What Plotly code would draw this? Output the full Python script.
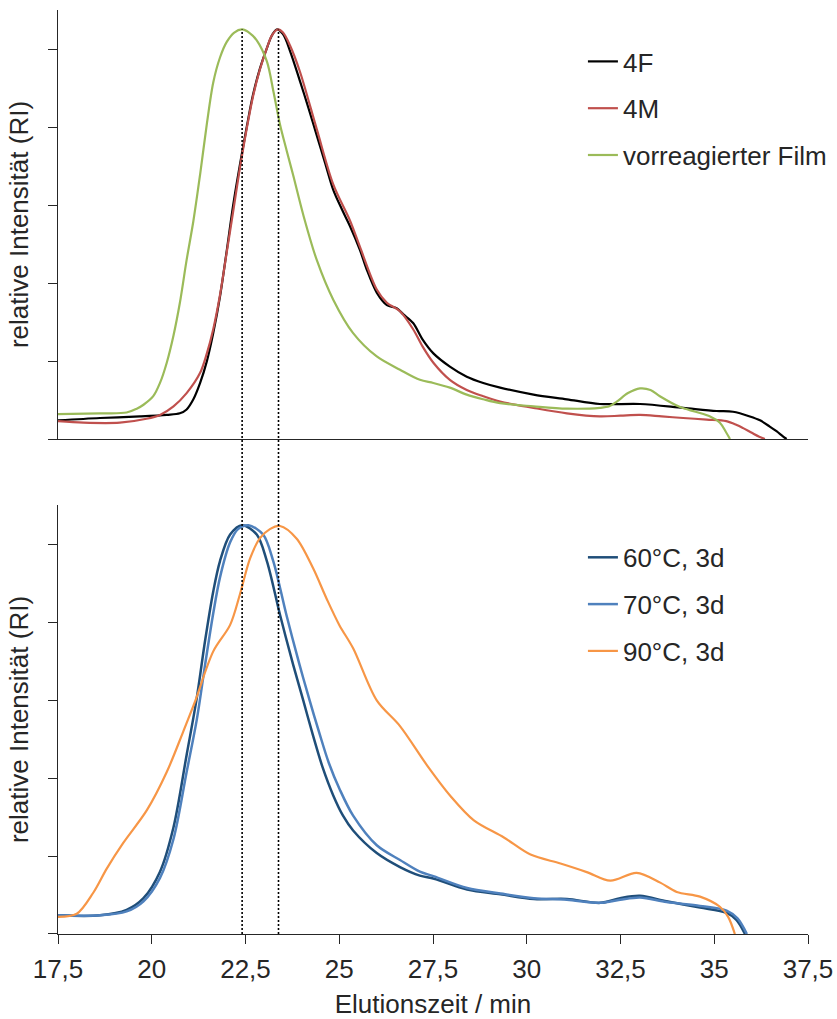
import plotly.graph_objects as go

# ---------------- data ----------------
# top panel
x_4F = [17.5, 18.62, 19.69, 20.4, 20.75, 20.93, 21.11, 21.29, 21.47, 21.64, 21.82, 22.0, 22.17,
        22.35, 22.53, 22.7, 22.88, 23.07, 23.2, 23.33, 23.5, 23.69, 23.95, 24.18, 24.4, 24.62, 24.84,
        25.07, 25.29, 25.55, 25.73, 26.0, 26.27, 26.53, 26.71, 26.97, 27.22, 27.51, 27.95, 28.4,
        28.84, 29.29, 30.18, 31.07, 31.95, 33.02, 34.17, 35.06, 35.5, 35.95, 36.22, 36.48, 36.66,
        36.84, 36.93]
y_4F = [0.24, 0.27, 0.29, 0.31, 0.33, 0.38, 0.51, 0.72, 1.0, 1.36, 1.83, 2.42, 3.0,
        3.52, 4.0, 4.42, 4.75, 5.02, 5.18, 5.26, 5.20, 4.98, 4.60, 4.25, 3.90, 3.55, 3.20,
        2.95, 2.73, 2.43, 2.18, 1.88, 1.72, 1.68, 1.60, 1.49, 1.28, 1.10, 0.93, 0.80,
        0.72, 0.66, 0.57, 0.51, 0.45, 0.45, 0.40, 0.36, 0.35, 0.29, 0.24, 0.16, 0.10,
        0.03, 0.0]

x_4M = [17.5, 18.18, 19.15, 19.86, 20.22, 20.58, 20.93, 21.29, 21.47, 21.64, 21.82, 22.0, 22.18,
        22.35, 22.53, 22.7, 22.88, 23.07, 23.2, 23.36, 23.5, 23.69, 23.95, 24.4, 24.84, 25.29, 25.55,
        26.0, 26.27, 26.62, 26.97, 27.22, 27.51, 27.95, 28.4, 28.84, 29.29, 30.18, 31.07, 31.95,
        32.5, 33.02, 33.6, 34.17, 34.8, 35.32, 35.6, 35.77, 36.0, 36.2, 36.35]
y_4M = [0.23, 0.21, 0.21, 0.26, 0.31, 0.42, 0.59, 0.85, 1.10, 1.41, 1.85, 2.40, 2.95,
        3.48, 3.98, 4.40, 4.74, 5.02, 5.18, 5.26, 5.22, 5.05, 4.72, 3.98, 3.27, 2.80, 2.47,
        1.92, 1.75, 1.64, 1.41, 1.19, 0.98, 0.76, 0.63, 0.55, 0.48, 0.40, 0.33, 0.29,
        0.30, 0.31, 0.29, 0.27, 0.25, 0.23, 0.18, 0.14, 0.08, 0.03, 0.0]

x_film = [17.5, 18.62, 19.33, 19.6, 19.78, 20.04, 20.22, 20.4, 20.58, 20.75, 20.93, 21.11, 21.29,
          21.47, 21.64, 21.82, 22.0, 22.2, 22.41, 22.62, 22.8, 23.07, 23.25, 23.42, 23.6, 23.77,
          24.04, 24.4, 24.84, 25.37, 26.0, 26.62, 27.15, 27.51, 27.95, 28.4, 28.84, 29.29, 30.18,
          31.07, 31.95, 32.2, 32.4, 32.7, 33.02, 33.3, 33.55, 34.09, 34.5, 34.89, 35.15, 35.3, 35.42]
y_film = [0.32, 0.33, 0.34, 0.39, 0.44, 0.55, 0.72, 0.98, 1.33, 1.75, 2.30, 2.80, 3.40,
          4.05, 4.58, 4.90, 5.10, 5.22, 5.26, 5.21, 5.12, 4.85, 4.45, 4.04, 3.70, 3.39,
          2.88, 2.30, 1.79, 1.36, 1.06, 0.89, 0.76, 0.72, 0.66, 0.57, 0.51, 0.46, 0.42,
          0.39, 0.40, 0.42, 0.48, 0.59, 0.65, 0.63, 0.55, 0.41, 0.35, 0.29, 0.21, 0.10, 0.0]

# bottom panel
x_60 = [17.5, 18.62, 19.33, 19.78, 20.22, 20.58, 20.93, 21.2, 21.42, 21.64, 21.82, 22.09, 22.41,
        22.8, 23.07, 23.42, 23.77, 24.04, 24.3, 24.55, 24.84, 25.1, 25.37, 26.0, 26.62, 27.15,
        27.53, 28.41, 29.3, 30.19, 31.07, 31.96, 32.49, 33.02, 33.73, 34.62, 35.33, 35.59, 35.82]
y_60 = [0.24, 0.24, 0.31, 0.46, 0.80, 1.37, 2.30, 3.03, 3.76, 4.40, 4.79, 5.13, 5.25,
        5.13, 4.79, 4.10, 3.46, 3.0, 2.55, 2.15, 1.78, 1.52, 1.33, 1.04, 0.86, 0.75,
        0.71, 0.57, 0.51, 0.45, 0.45, 0.40, 0.46, 0.49, 0.42, 0.34, 0.27, 0.18, 0.0]

x_70 = [17.5, 18.62, 19.33, 19.78, 20.22, 20.58, 20.93, 21.2, 21.42, 21.64, 21.82, 22.09, 22.3,
        22.58, 22.97, 23.24, 23.59, 23.94, 24.21, 24.47, 24.72, 25.01, 25.37, 26.0, 26.62, 27.15,
        27.53, 28.41, 29.3, 30.19, 31.07, 31.96, 32.49, 33.02, 33.73, 34.62, 35.33, 35.62, 35.87]
y_70 = [0.24, 0.24, 0.29, 0.42, 0.72, 1.22, 2.08, 2.75, 3.45, 4.12, 4.58, 5.03, 5.20,
        5.25, 5.13, 4.79, 4.10, 3.46, 3.0, 2.58, 2.20, 1.86, 1.52, 1.14, 0.95, 0.80,
        0.74, 0.59, 0.52, 0.46, 0.44, 0.40, 0.44, 0.47, 0.41, 0.36, 0.30, 0.20, 0.0]

x_90 = [17.5, 18.0, 18.44, 18.8, 19.24, 19.87, 20.4, 20.84, 21.15, 21.64, 22.09, 22.35, 22.62,
        22.88, 23.15, 23.42, 23.86, 24.3, 24.66, 25.0, 25.37, 26.0, 26.62, 27.35, 27.97, 28.59,
        29.39, 30.1, 30.9, 31.6, 32.23, 32.93, 33.56, 34.0, 34.62, 35.15, 35.37, 35.55]
y_90 = [0.22, 0.26, 0.53, 0.84, 1.17, 1.59, 2.08, 2.60, 2.98, 3.63, 3.97, 4.36, 4.82,
        5.08, 5.20, 5.24, 5.08, 4.70, 4.31, 3.97, 3.67, 3.00, 2.67, 2.16, 1.77, 1.46,
        1.24, 1.02, 0.905, 0.795, 0.685, 0.785, 0.66, 0.54, 0.48, 0.35, 0.22, 0.0]

peak_lines = [22.41, 23.38]          # dotted reference lines (elution time)
peak_level = 5.26                    # height where the dotted lines start (top panel)

x_tickvals = [17.5, 20, 22.5, 25, 27.5, 30, 32.5, 35, 37.5]
x_ticktext = ["17,5", "20", "22,5", "25", "27,5", "30", "32,5", "35", "37,5"]
y_tickvals = [0, 1, 2, 3, 4, 5]

top_series = [("4F", x_4F, y_4F, "#000000", 2.2),
              ("4M", x_4M, y_4M, "#c0504d", 2.2),
              ("vorreagierter Film", x_film, y_film, "#9bbb59", 2.2)]
bottom_series = [("60°C, 3d", x_60, y_60, "#1f4e79", 2.5),
                 ("70°C, 3d", x_70, y_70, "#4f81bd", 2.5),
                 ("90°C, 3d", x_90, y_90, "#f79646", 2.2)]

# ---------------- figure ----------------
FONT = "Liberation Sans, Arial, sans-serif"
TXT = "#262626"
AX = "#262626"
YMAX = 5.51
TOP_DOM = [0.5357, 1.0]
BOT_DOM = [0.0, 0.4643]

fig = go.Figure()
for i, (name, xs, ys, col, w) in enumerate(top_series):
    fig.add_trace(go.Scatter(x=xs, y=ys, name=name, mode="lines",
                             line=dict(color=col, width=w, shape="spline", smoothing=0.9),
                             xaxis="x", yaxis="y", legend="legend",
                             legendgroup="t%d" % i))
for i, (name, xs, ys, col, w) in enumerate(bottom_series):
    fig.add_trace(go.Scatter(x=xs, y=ys, name=name, mode="lines",
                             line=dict(color=col, width=w, shape="spline", smoothing=0.9),
                             xaxis="x2", yaxis="y2", legend="legend2",
                             legendgroup="b%d" % i))

yaxis_common = dict(range=[0, YMAX], showline=True, linecolor=AX, linewidth=1.3,
                    ticks="outside", ticklen=9, tickwidth=1.3, tickcolor=AX,
                    tickvals=y_tickvals, showticklabels=False, showgrid=False,
                    zeroline=False, fixedrange=True, automargin=False,
                    title=dict(text="relative Intensität (RI)",
                               font=dict(family=FONT, size=26, color=TXT), standoff=11))

fig.update_layout(
    width=837, height=1019,
    margin=dict(l=58, r=29, t=10, b=85, autoexpand=False),
    paper_bgcolor="white", plot_bgcolor="white",
    font=dict(family=FONT, size=26, color=TXT),
    xaxis=dict(domain=[0, 1], anchor="y", range=[17.5, 37.5], matches="x2",
               showline=True, linecolor=AX, linewidth=1.3, ticks="",
               showticklabels=False, showgrid=False, zeroline=False, automargin=False),
    yaxis=dict(domain=TOP_DOM, anchor="x", **yaxis_common),
    xaxis2=dict(domain=[0, 1], anchor="y2", range=[17.5, 37.5],
                showline=True, linecolor=AX, linewidth=1.3,
                ticks="outside", ticklen=9, tickwidth=1.3, tickcolor=AX,
                tickvals=x_tickvals, ticktext=x_ticktext, ticklabelstandoff=3,
                tickfont=dict(family=FONT, size=26, color=TXT),
                showgrid=False, zeroline=False, automargin=False,
                title=dict(text="Elutionszeit / min",
                           font=dict(family=FONT, size=26, color=TXT), standoff=14)),
    yaxis2=dict(domain=BOT_DOM, anchor="x2", **yaxis_common),
    legend=dict(x=0.6999, y=0.9697, xanchor="left", yanchor="top",
                bgcolor="rgba(0,0,0,0)", borderwidth=0, tracegroupgap=10,
                font=dict(family=FONT, size=26, color=TXT)),
    legend2=dict(x=0.6999, y=0.4330, xanchor="left", yanchor="top",
                 bgcolor="rgba(0,0,0,0)", borderwidth=0, tracegroupgap=10,
                 font=dict(family=FONT, size=26, color=TXT)),
    showlegend=True,
)

# dotted vertical lines through both panels
y_top_paper = TOP_DOM[0] + (TOP_DOM[1] - TOP_DOM[0]) * peak_level / YMAX
for xv in peak_lines:
    fig.add_shape(type="line", xref="x2", yref="paper", x0=xv, x1=xv,
                  y0=0, y1=y_top_paper,
                  line=dict(color="#000000", width=1.6, dash="2px,2px"))

# remove the browser's default 8px page margin so the figure fills the window
fig.write_html("out.html", config={"displayModeBar": False},
               post_script="document.body.style.margin='0';")
